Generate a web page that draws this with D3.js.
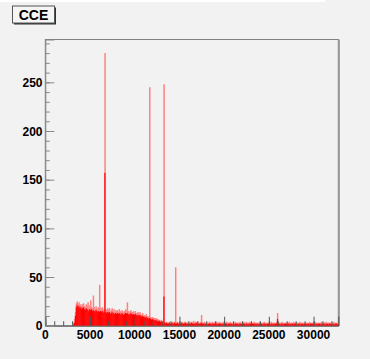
<!DOCTYPE html>
<html>
<head>
<meta charset="utf-8">
<script src="https://cdn.jsdelivr.net/npm/d3@7"></script>
<style>
  body { margin: 0; background: #f2f2f2; }
  svg { display: block; }
  text { font-family: "Liberation Sans", Arial, sans-serif; font-weight: bold; }
</style>
</head>
<body>
<div class="container"></div>
<script>
var w = 370, h = 359;

// histogram "CCE": 100-channel bins starting at channel 3000
var title = 'CCE';
var binStart = 3000, binWidth = 100;
var xMax = 32768;
var xTicks = [0, 5000, 10000, 15000, 20000, 25000, 30000];
var yTicks = [0, 50, 100, 150, 200, 250];

// solid part of each bin
var coreCounts = [
  0,1,3,10,19,21,19,20,18,19,
  17,18,19,17,16,18,17,16,15,17,
  16,17,15,16,15,14,16,15,14,15,
  14,15,14,15,13,14,157,14,13,14,
  13,14,12,13,14,12,13,12,13,12,
  13,12,13,12,11,13,12,11,12,13,
  12,13,12,11,12,13,12,11,12,11,
  12,11,10,11,10,11,10,9,10,9,
  9,8,9,8,8,7,8,7,6,7,
  6,6,5,6,5,5,4,5,4,4,
  4,3,30,3,2,3,2,2,3,2,
  2,3,2,2,3,2,2,3,2,2,
  2,2,3,2,2,2,3,2,2,2,
  2,2,2,3,2,2,2,2,3,2,
  2,2,2,2,3,2,2,2,2,2,
  2,1,2,2,2,1,2,2,2,2,
  2,2,1,2,2,2,2,1,2,2,
  2,2,2,1,2,2,2,2,2,1,
  2,1,2,2,2,1,2,2,2,2,
  2,2,2,1,2,2,1,2,2,2,
  1,2,2,2,2,1,2,2,1,2,
  2,2,1,2,2,2,2,1,2,2,
  2,1,2,2,1,2,2,2,2,7,
  2,2,1,2,2,2,1,2,2,2,
  1,2,2,1,2,2,2,1,2,2,
  2,1,2,2,2,1,2,2,1,2,
  2,2,1,2,2,1,2,2,2,1,
  2,1,2,2,1,2,2,1,2,2,
  1,2,2,1,2,2,1,2,2,1,
  2,1,2,1,2,2,1,2
];

// highest channel inside each bin
var peakCounts = [
  1,3,7,14,23,25,22,24,21,22,
  20,22,23,20,19,22,20,24,18,21,
  26,19,18,31,19,17,20,18,17,19,
  42,18,17,19,16,17,280,17,16,18,
  16,18,15,16,18,15,17,14,16,15,
  16,14,17,15,14,16,15,14,15,17,
  15,24,15,13,15,16,14,14,15,13,
  15,13,13,14,12,14,12,11,13,11,
  11,10,12,10,10,9,245,9,8,9,
  8,8,7,8,7,7,6,6,5,6,
  5,4,248,4,3,4,3,3,4,3,
  3,4,3,4,4,60,3,4,3,3,
  3,4,4,3,3,4,4,3,3,4,
  3,3,4,4,3,5,3,4,4,3,
  4,3,3,4,11,3,3,4,3,3,
  3,3,3,4,3,3,4,3,3,4,
  3,4,3,3,4,3,3,3,4,3,
  3,3,4,3,3,3,4,3,3,3,
  3,3,4,3,3,3,3,4,3,3,
  3,4,3,3,4,3,3,3,4,3,
  3,3,3,4,3,3,3,3,3,4,
  3,3,3,3,4,3,3,3,3,3,
  3,3,4,3,3,3,3,3,4,13,
  3,3,3,3,4,3,3,3,3,3,
  3,3,4,3,3,3,3,4,3,3,
  3,3,3,3,4,3,3,3,3,3,
  3,3,3,3,3,4,3,3,3,3,
  3,4,3,3,3,3,3,3,4,3,
  3,3,3,4,3,3,3,3,3,3,
  3,3,4,3,3,3,3,3
];

var frame = {left: 45.3, right: 338.3, top: 39.5, bottom: 325.7};

var svg = d3.select('.container')
  .append('svg')
  .attr('width', w)
  .attr('height', h);

svg.append('rect').attr('width', w).attr('height', h).attr('fill', '#f2f2f2');
svg.append('rect').attr('width', 325).attr('height', 2).attr('fill', '#ffffff');

var yMax = d3.max(peakCounts) * 1.05;

var x = d3.scaleLinear().domain([0, xMax]).range([frame.left, frame.right]);
var y = d3.scaleLinear().domain([0, yMax]).range([frame.bottom, frame.top]);

var bins = peakCounts.map(function(p, i) {
  return {x0: binStart + i * binWidth, peak: p, core: coreCounts[i]};
});

// frame
svg.append('rect')
  .attr('x', frame.left)
  .attr('y', frame.top)
  .attr('width', frame.right - frame.left)
  .attr('height', frame.bottom - frame.top)
  .attr('fill', 'none')
  .attr('stroke', '#808080')
  .attr('stroke-width', 1);
svg.append('line')
  .attr('x1', frame.right + 1).attr('x2', frame.right + 1)
  .attr('y1', frame.top).attr('y2', frame.bottom)
  .attr('stroke', '#909090');

var hist = svg.append('g');

hist.selectAll('rect.peak')
  .data(bins)
  .enter()
  .append('rect')
  .attr('class', 'peak')
  .attr('x', d => x(d.x0))
  .attr('width', d => x(d.x0 + binWidth) - x(d.x0) + 0.6)
  .attr('y', d => y(d.peak))
  .attr('height', d => y(0) - y(d.peak))
  .attr('fill', '#ff8080');

hist.selectAll('rect.core')
  .data(bins)
  .enter()
  .append('rect')
  .attr('class', 'core')
  .attr('x', d => x(d.x0))
  .attr('width', d => x(d.x0 + binWidth) - x(d.x0) + 0.3)
  .attr('y', d => y(d.core))
  .attr('height', d => y(0) - y(d.core))
  .attr('fill', '#ff0000');

// x axis: ticks point up into the frame
svg.append('g')
  .attr('transform', 'translate(0,' + frame.bottom + ')')
  .call(d3.axisTop(x).tickValues(d3.range(0, xMax, 1000)).tickSize(4.5).tickFormat(''))
  .call(g => g.select('.domain').remove())
  .selectAll('line').attr('stroke', '#555');

svg.append('g')
  .attr('transform', 'translate(0,' + frame.bottom + ')')
  .call(d3.axisTop(x).tickValues(xTicks).tickSize(9).tickFormat(''))
  .call(g => g.select('.domain').attr('stroke', '#555'))
  .selectAll('line').attr('stroke', '#555');

svg.append('g')
  .selectAll('text')
  .data(xTicks)
  .enter()
  .append('text')
  .attr('x', d => x(d))
  .attr('y', 339)
  .attr('text-anchor', 'middle')
  .style('font-size', '12px')
  .text(d => d);

// y axis: ticks point right into the frame
svg.append('g')
  .attr('transform', 'translate(' + frame.left + ',0)')
  .call(d3.axisRight(y).tickValues(d3.range(0, yMax, 10)).tickSize(4.5).tickFormat(''))
  .call(g => g.select('.domain').remove())
  .selectAll('line').attr('stroke', '#888');

svg.append('g')
  .attr('transform', 'translate(' + frame.left + ',0)')
  .call(d3.axisRight(y).tickValues(yTicks).tickSize(9).tickFormat(''))
  .call(g => g.select('.domain').attr('stroke', '#888'))
  .selectAll('line').attr('stroke', '#888');

svg.append('g')
  .selectAll('text')
  .data(yTicks)
  .enter()
  .append('text')
  .attr('x', 42.5)
  .attr('y', d => d === 0 ? y(d) + 4 : y(d) + 4.5)
  .attr('text-anchor', 'end')
  .style('font-size', '12px')
  .text(d => d);

// title box
svg.append('rect')
  .attr('x', 14).attr('y', 7.5).attr('width', 42).attr('height', 17)
  .attr('fill', '#303030');
svg.append('rect')
  .attr('x', 12.5).attr('y', 6).attr('width', 42).attr('height', 17)
  .attr('fill', '#f5f5f5')
  .attr('stroke', '#555')
  .attr('stroke-width', 1);
svg.append('text')
  .attr('x', 33.5)
  .attr('y', 20)
  .attr('text-anchor', 'middle')
  .style('font-size', '14px')
  .text(title);
</script>
</body>
</html>
